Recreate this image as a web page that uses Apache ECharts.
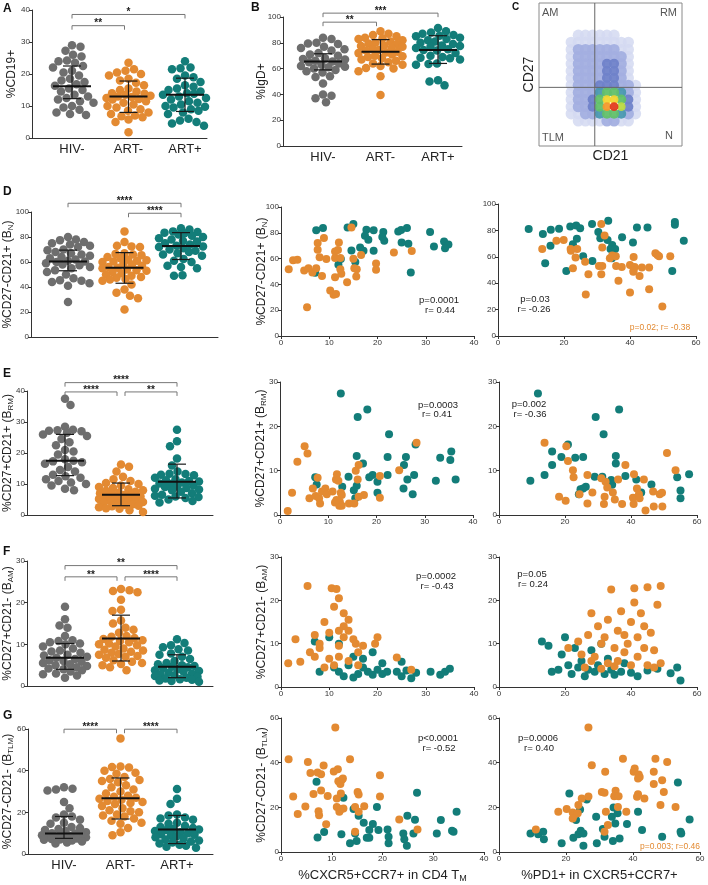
<!DOCTYPE html>
<html><head><meta charset="utf-8">
<script src="https://cdn.jsdelivr.net/npm/echarts@6/dist/echarts.min.js"></script>
<style>html,body{margin:0;padding:0;background:#fff}#c{width:708px;height:885px}</style>
</head><body><div id="c"></div>
<script>
// ---------------- DATA ----------------
const groups = ['HIV-', 'ART-', 'ART+'];

const A_hiv = [29,28.5,27.3,26,25.5,24.2,24,23.5,22.5,22,21,20.5,19.5,18.5,18,17.5,16.8,16.3,15.5,15,14.5,13.5,13,12.5,12,11.5,11,10,9.5,8.8,8,7.5,7.2];
const A_artn = [23.5,21.5,21,20.5,20,19.5,18.5,18,17.3,16.5,15.5,15,14.5,14,13.8,13.5,13.2,13,12.8,12.5,12.2,12,11.5,11,10.5,10,9.5,9,8.5,8,7.5,7,6.8,6.5,5.8,5,1.8];
const A_artp = [24,22,21.8,21.5,19.5,19,18.5,17.5,16.5,16,15.5,15,14.5,14,13.8,13.5,13,12.5,12,11.5,11,10.5,10,9.8,9.5,9,8.5,8,7.5,6,5.5,5,4.5,3.8];
const A_stats = [[16.2,12.3,22.5],[13,8,17.8],[13.5,8.3,18.7]];
const A_brk = [[0,1,35.1],[0,2,38.6]];
const A_stars = ['**','*'];

const B_hiv = [84,83,80,79.5,79,77,76,75,74,72,71,70,68,67.5,67,66,65.5,65,64,63,62,61.5,61,60,59,58,57,54,53.5,48.5,40,39,37,34];
const B_artn = [89,87,86,85,84,83.5,83,82,81,80,79.5,79,78,77.5,77,76,75,74.5,74,73,72.5,72,71,70,69.5,69,68,67,66,65,64,63,62,60.5,60,58,54,39.5];
const B_artp = [91.5,89,88,87,86,85.5,85,84,83,82,81,80,79,78,77.5,77,76,75,74.5,74,72,70,69,68.5,68,67,64,63.5,63,51,50,47];
const B_stats = [[65.5,59,71.5],[73,63.5,82.5],[74.5,64,85.5]];
const B_brk = [[0,1,96],[0,2,103]];
const B_stars = ['**','***'];

const D_hiv = [80,78,77.5,76,75,74,73,72,70,69.5,68,67,66,65,64,63,62,61,60.5,60,59,58,57.5,56,55,53.5,52,50,47,45.5,45,44,43,41,28];
const D_artn = [84.5,76,73,72.5,72,67,66.5,66,65.5,64,63,62,61.5,61,60.5,60,59,58,57,56,55.5,55,54,53.5,53,52,51,50,49,48,47.5,46.5,46,45,42,38,35.5,33,31,22];
const D_artp = [87,86,84.5,84,83.5,83,82,81,80,79,78,77,76.5,75,74,73,72.5,72,71,70,69,68,67,66,65,62.5,61,60,57,56,55,49.5,49];
const D_stats = [[60.5,53,69.5],[55.5,43,67.5],[72.8,62,83.5]];
const D_brk = [[0,2,107],[1,2,99]];
const D_stars = ['****','****'];

const E_hiv = [37.5,35.5,28.5,27.5,27.3,27.2,27,26.5,26,25.5,24.5,23.5,22.5,21,20.5,19.5,18,17.5,17.3,17,16.5,15.5,14.5,14,13,12.5,12,11.5,11,10.5,10,9.5,8.5,8];
const E_artn = [16.3,15.6,14,12.3,11.5,11,10.3,10,9.5,9,8.7,8.3,8,7.8,7.5,7.2,7,6.8,6.5,6.3,6,5.8,5.5,5.2,5,4.8,4.6,4.4,4.2,4,3.8,3.5,3.2,3,2.8,2.5,2.2,2,1.5,1];
const E_artp = [27.5,23.8,22.2,18.2,16,14,13.3,13.2,13,12.8,12,11.5,11.2,11,10.8,10.5,10.2,10,9.5,9.2,9,8.7,8.5,8.2,8,7.5,7,6.5,6.2,6,5.8,5.5,5,4.5,4];
const E_stats = [[17.5,12.7,26],[6.5,3,10.3],[10.7,5.5,16.4]];
const E_brk = [[0,2,42.7],[0,1,39.7],[1,2,39.7]];
const E_stars = ['****','****','**'];

const F_hiv = [19,16,14.5,14,12,11,10.8,10.5,10.2,10,9.5,9,8.5,8.3,8,7.5,7.3,7,6.8,6.5,6.2,6,5.8,5.5,5.2,5,4.8,4.5,4.2,4,3.8,3.5,3,2.8,2.5,2];
const F_artn = [23.3,23,22.8,22.5,20.7,18.3,18,15.7,15,14,13.5,12.8,12,11.8,11.5,11.3,11,10.8,10.5,10.2,10,9.8,9.5,9,8.7,8.5,8.2,8,7.7,7.5,7.2,7,6.8,6.2,5.8,5.5,5.3,5,4.5,3.8];
const F_artp = [11.2,10.3,9.8,9.3,8.8,8.5,7.8,7.5,7,6.5,6,5.5,5.2,5,4.8,4.6,4.5,4.3,4,3.8,3.6,3.4,3.2,3,2.8,2.6,2.4,2.2,2,1.8,1.6,1.5,1.3,1.2,1];
const F_stats = [[6.8,4,10.2],[11.4,6,17],[4.6,2,7.5]];
const F_brk = [[0,2,28.9],[0,1,26.2],[1,2,26.2]];
const F_stars = ['**','**','****'];

const G_hiv = [32,31,30.5,31.3,25,22,19,18,17.5,16.5,15,14.5,13,12.5,12,11.5,11,10.5,10,9.8,9.5,9.2,9,8.8,8.5,8.2,8,7.8,7.5,7.2,7,6.8,6.5,6,5.5,5];
const G_artn = [55.5,42,41.5,41.8,40,39,38.5,37,36,35.5,35,34.5,33,32,31,30,29,28,27.5,27,26.5,26,25.5,25,24.5,24,23,22,21,20.5,20,19,18.5,18,17,16,15,14.5,12.5,10.5,9];
const G_artp = [31.2,26.5,24,19,18.5,17.5,17,16.5,15,14.5,13.5,13,12.5,12,11.8,11.5,11,10.5,10,9.5,9.3,9,8.5,8,7.5,7,6.5,6,5.5,5,4.5,4,3.5,3];
const G_stats = [[9.8,7.5,18],[26.8,16.8,36.5],[11.8,5,18.5]];
const G_brk = [[0,1,59.9],[1,2,59.9]];
const G_stars = ['****','****'];

// scatter: x = %CXCR5+CCR7+ in CD4 TM (mid) or %PD1+ (right); [x, y]
const Dm_teal = [[7.3,81.9],[8.7,83.7],[13.8,84.2],[15,86.8],[17.7,82.4],[19.2,81.9],[21.2,80.6],[24.3,81.1],[24.9,82.1],[26.1,83.7],[30.9,80.6],[33.8,73.3],[34.7,71],[34,68.1],[31.7,69.4],[26.4,71.5],[25,72.5],[21.4,73.8],[21,76.7],[17.4,77.7],[18.1,74.6],[16.4,68.7],[17.1,66.1],[14.6,66.3],[19.2,66.1],[12.4,59.6],[11.9,55.2],[15.4,57.3],[7.1,49],[26.9,49.2]];
const Dm_orange = [[1.6,51.8],[2.5,58.8],[3.4,59.1],[4.8,50.8],[5.7,52.6],[6.5,49.2],[7.3,52.6],[7.6,72],[7.6,66.8],[8,61.1],[8.5,46.6],[8.9,75.9],[9.4,59.6],[10.2,35.2],[10.9,31.9],[11.4,32.6],[11.2,45.6],[11.2,65.5],[11.8,66.6],[12,72.5],[11.2,60.4],[12.3,60.4],[12.3,51.8],[12.5,48.2],[13.7,41.7],[14.6,84.2],[15,59.8],[15.2,52.6],[15.7,51.8],[15.6,46.1],[16.6,62.7],[19.7,56.2],[19.7,51.3],[23.4,64.8],[27.1,65.8],[5.4,22.3]];
const Dr_teal = [[9.3,81],[13.6,77.2],[16,80.5],[18.5,81.2],[21.9,83],[23.7,83.8],[24.9,81.7],[28.5,84.8],[30.4,78.7],[33.4,87.3],[31,74.1],[33.2,72.8],[37.6,74.9],[42.1,82.2],[45.3,82.2],[40.9,70.8],[53.6,86.3],[53.6,84.3],[56.3,72.1],[15.9,68.3],[22.7,69.5],[23.9,73.6],[34.6,69],[34.1,66],[35.5,66],[25.8,60.4],[28.6,56.9],[34.5,58.9],[14.3,55.1],[20.7,49.2],[52.8,49.2]];
const Dr_orange = [[13.4,66],[17.7,72.1],[19.9,72.8],[22,66],[24,66],[22.1,64.5],[23.5,59.4],[26.4,56.3],[22.7,51.3],[27.4,46.7],[26.6,31.5],[31.3,84.8],[32.3,76.1],[31.6,67],[33.9,58.9],[34.6,60.9],[35.7,60.4],[30.6,53],[31.6,53],[31.3,46.7],[35.8,53],[37.5,52.3],[36.5,41.9],[40,53.8],[40,33],[41.1,59.9],[41.4,52.3],[41,48.7],[41.1,49.7],[42.9,45.4],[43.6,51.8],[45.8,51.8],[45.8,35.5],[47.7,62.7],[48.3,61.4],[48.8,60.4],[52.2,60.4],[49.8,22.3]];

const Em_teal = [[12.6,27.4],[18.1,23.8],[16.1,22.1],[22.6,18.2],[28.1,15.9],[15.9,13.3],[22.3,13.1],[26.1,13.1],[33.2,12.9],[35.5,14.3],[35.3,12.4],[17.2,11.6],[25.7,11.3],[27.8,9],[22.3,9],[19.2,9],[18.5,8.5],[14.2,8.6],[7.3,8.5],[7.6,6.9],[12.9,6.4],[15.9,6.6],[15.3,5.6],[20.2,7.5],[26.4,8],[32.3,7.7],[36.4,8],[20.2,5],[25.6,6],[27.5,4.7],[15.6,3.8]];
const Em_orange = [[1.6,0.9],[2.5,5],[3.6,12],[5.1,15.5],[5.7,13.9],[6.1,3.8],[6.8,6],[7.8,8.4],[7.4,4.3],[8.1,3.8],[8.3,2.6],[8.7,5.3],[9.4,6],[9.7,4.7],[10.9,5.3],[11.6,8],[11.8,9.2],[12.1,7.7],[11.4,2.8],[12.3,2.1],[12.6,5],[12.8,4.5],[12.4,3],[12.8,2.1],[14.3,2.6],[15.4,2.6],[16.3,4.1],[16.1,8],[16.3,11.3],[17.4,4.5],[20.7,8.8],[20.7,3.9],[24.7,10.1],[28.3,16.3],[15.7,10],[11.7,3.4]];
const Er_teal = [[11.8,27.4],[36.4,23.8],[29.3,22.1],[31.7,18.2],[20.9,15.9],[16.1,14.3],[18.9,13.1],[16.1,11.3],[23.1,12.9],[25.5,13.1],[35.4,13.3],[35.4,11.6],[13.8,9],[9.5,7.7],[29,8.6],[31.3,8.6],[38.3,8.8],[41.6,8],[34,7.9],[34.3,6.8],[46.2,6.9],[54,8.5],[57.6,9.2],[55,5.5],[55,3.8],[43.1,5.1],[26.3,6.4],[24.7,5.8],[24.2,4.7],[25.5,6]];
const Er_orange = [[13.8,16.3],[20.4,15.5],[50.9,14],[20.9,12.2],[22.4,10.1],[22.6,8.5],[53.5,10.1],[38.3,11.3],[40.9,9.2],[43.9,8],[36.1,8],[26.8,9],[31,8.3],[32.3,7.5],[32.8,6.2],[28.3,5.1],[24.4,4.7],[18.2,4.1],[20.2,3.2],[26.8,2.6],[32,4.1],[31.8,2.5],[34.5,5.1],[35.1,3.5],[37.3,2.5],[40.6,3.9],[40.8,2.5],[41.8,6],[42.4,4.7],[42.6,3.8],[44.4,1],[46.7,5.3],[46.9,1.9],[48.7,4.7],[49.4,5],[49.5,1.9]];

const Fm_orange = [[5.5,23.3],[10.5,22.8],[11.5,22.6],[12,20.5],[11,18.5],[13,17],[14,15.5],[9,15],[10,12.5],[7,12],[3,11],[8,9],[13,11.5],[15,11],[15.5,10],[17,9.5],[19.5,10],[12,9.5],[6,8],[7,7],[10,6.5],[12,7],[14,6],[11,5],[16,8],[4,5.8],[1.5,5.5],[9,4.5],[20,11.5],[13,14],[14,13],[24,6.8],[27,4],[16,5],[8,10],[12,13]];
const Fm_teal = [[7,10.5],[12,10],[10,11.5],[15,7],[17,6.5],[14,5],[12,3.5],[13,2.5],[16,3],[18,3.5],[19,2.8],[20,4],[21,3],[22,3.5],[24,3.5],[25,2.5],[26,3.8],[28,3.3],[31,3.5],[34,3.5],[35,4.2],[33,2.8],[8,3.5],[11,4.5],[15,2.2],[17,4.5],[21,5.5],[25,5.8],[19,8],[27,2]];
const Fr_orange = [[21,9],[24,10.5],[25,7.5],[27,12],[28,6],[29,7],[30,14],[31,10],[32,11.5],[33,5.5],[33,15.5],[34,22.5],[35,9],[36,13],[36,6],[37,17.5],[38,8],[38,12],[39,10],[40,5],[40,15],[41,19.5],[41,22.8],[42,7],[42,11.5],[43,17],[44,9],[44,14],[45,5],[45,23],[46,12.5],[47,8.5],[48,19],[49,23.3],[49,5.5],[28,17],[26,4.5],[31,4.2],[35,4.8],[47,4.5]];
const Fr_teal = [[13,10.5],[15,9.5],[16,3.5],[18,4],[19,7.5],[20,11.5],[21,5],[22,3],[23,9],[24,4.5],[25,6],[26,2.5],[27,4],[28,8.5],[29,3.5],[30,5],[31,10],[32,3],[33,6.5],[34,4],[35,2.8],[37,3.5],[38,5.5],[40,3.3],[42,2.5],[45,3.8],[48,4.2],[52,3.2],[54,4.5],[55,1.5]];

const Gm_orange = [[1.5,41.5],[2.4,24.9],[3.3,17],[4.8,20.4],[5.3,40.3],[5.8,35.4],[6.4,26],[7.2,35.6],[7.4,18.3],[7.5,16.5],[7.9,34.8],[7.9,27.5],[8.4,38.7],[8.9,12.4],[9.2,25.1],[10.4,36],[10.7,55.7],[11,24],[11.2,37.1],[11,20.2],[11.3,31.7],[11.5,18],[11.7,30.4],[11.8,26.2],[12,32.4],[11.9,19.2],[12.2,32.9],[13.6,41.5],[14.6,20.2],[14.6,9.1],[15.1,26.9],[15.3,25.7],[15.3,18],[16.4,20.5],[19.5,34.4],[19.5,24.9],[23.3,14.6],[26.9,10.1],[12.3,19.5]];
const Gm_teal = [[7,31.4],[7.2,6.5],[8.5,8.9],[11.9,7.9],[12.3,24.3],[13.6,3.9],[14.3,19.2],[14.6,8.3],[14.9,4.9],[15.3,16.2],[16.3,13.1],[16.9,6.4],[17.4,6.4],[17.4,9.8],[18.1,12.5],[18.9,20.2],[19.2,9.8],[21,10.1],[21.2,6.8],[21.2,3.9],[24.1,8.3],[24.3,5.7],[24.9,16.2],[24.8,2.8],[26.1,8.3],[26.4,14.4],[26.8,26.5],[30.7,8.3],[31.5,14.3],[33.7,9.5],[34,9.1],[34.6,18]];
const Gr_orange = [[26.7,55.7],[27.7,38.8],[37,41.8],[46.7,41.8],[50.2,40.3],[40.2,35.9],[40.5,37.4],[42,33.6],[41.7,34.7],[41.5,32.9],[46.2,35.9],[48.7,32.1],[46.2,30.4],[31.7,35.9],[30.7,26.9],[31.5,26.5],[34.8,27.4],[34.4,25],[35.7,25],[41.5,25.9],[41.2,24.7],[43.4,24],[49.2,26.9],[26.7,24.9],[24.7,24],[23.7,21],[20.2,19.2],[17.7,18],[22,17.7],[22.4,16.5],[23.5,17.3],[22,15],[31.9,18],[35.5,20.2],[38,18],[48.2,21],[52.7,20.2],[32.5,12.1],[31.5,9.1],[11,10.1]];
const Gr_teal = [[9.4,8.3],[11.7,7.9],[13.2,9.1],[13.4,5.7],[18.7,3.9],[21,26.2],[22.2,6.4],[23,14.3],[23.7,7.9],[24.2,19],[24.4,9.5],[25.2,8.3],[25.2,2.8],[26.2,23.5],[29,15.8],[29.2,3.9],[31,10.3],[31.5,6.8],[33.7,15.8],[34.2,19.9],[34,4.9],[34.7,12.8],[35.4,17.3],[36,6.1],[38.2,12.5],[41.5,18],[42.7,9.8],[48.7,6.8],[53.4,31.1],[54.2,9.1],[54.4,8.3],[56.9,14.6]];

// panel C: density levels (0-9) in 5-unit cells, rows from CD27=75..80 (top) down to 15..20, columns CD21=15..75
const C_rows = [
 '001111110000',
 '011111111100',
 '012222221100',
 '012222222100',
 '012222332100',
 '012222332100',
 '012222332100',
 '012223332210',
 '012224554210',
 '012235775310',
 '012235896310',
 '011224554210',
 '001111221100'
];
const C_gate = [[39, 41]];
const C_quadrants = ['AM', 'RM', 'TLM', 'N'];

const statTexts = {
  Dm: ['p=0.0001', 'r= 0.44'], Dr: ['p=0.03', 'r= -0.26', 'p=0.02; r= -0.38'],
  Em: ['p=0.0003', 'r= 0.41'], Er: ['p=0.002', 'r= -0.36'],
  Fm: ['p=0.0002', 'r= -0.43'], Fr: ['p=0.05', 'r= 0.24'],
  Gm: ['p<0.0001', 'r= -0.52'], Gr: ['p=0.0006', 'r= 0.40', 'p=0.003; r=0.46']
};

// ---------------- BUILD ----------------
const FONT = '"Liberation Sans", Arial, Helvetica, sans-serif';
const COL = ['#6e6e6e', '#e38a32', '#137d79'];
const AXC = '#333';
const RICH = { s: { fontSize: 8, fontFamily: FONT, color: '#222', verticalAlign: 'bottom', lineHeight: 8 } };
const grids = [], xAxes = [], yAxes = [], series = [], graphics = [];

function addGrid(l, t, w, h) { grids.push({ left: l, top: t, width: w, height: h }); return grids.length - 1; }
function txt(x, y, text, size, color, align, weight) {
  graphics.push({ type: 'text', x: x, y: y, silent: true,
    style: { text: text, fontSize: size, fontFamily: FONT, fill: color, align: align || 'center', verticalAlign: 'middle',
      textAlign: align || 'center', textVerticalAlign: 'middle', fontWeight: weight || 'normal' } });
}
function yAxisOpt(gi, max, interval, name, gap) {
  return { gridIndex: gi, type: 'value', min: 0, max: max, interval: interval,
    name: name || '', nameLocation: 'middle', nameGap: gap || 12, nameMoveOverlap: false,
    nameTextStyle: { fontFamily: FONT, fontSize: 12, color: '#222', lineHeight: 14, rich: RICH },
    axisLine: { show: true, onZero: false, lineStyle: { color: AXC, width: 1 } },
    axisTick: { show: true, length: 3, lineStyle: { color: AXC } },
    axisLabel: { fontSize: 8, color: '#333', margin: 2, fontFamily: FONT },
    splitLine: { show: false } };
}
// beeswarm layout in pixel space, width capped (overlap allowed when crowded)
function swarm(vals, pxY, pxG, d, maxHalf) {
  const sorted = vals.slice().sort((a, b) => b - a);
  const placed = [], out = [];
  sorted.forEach((v, i) => {
    const y = v * pxY; let best = null, bestScore = -1, bestX = 0;
    for (let k = 0; k <= maxHalf * 2 && best === null; k++) {
      const off = k * 0.5;
      const c = k === 0 ? [0] : (i % 2 ? [off, -off] : [-off, off]);
      for (const x of c) {
        let mind = Infinity;
        for (const p of placed) { const dd = Math.hypot(p[0] - x, p[1] - y); if (dd < mind) mind = dd; }
        if (mind >= d) { best = x; break; }
        if (mind > bestScore + 0.01) { bestScore = mind; bestX = x; }
      }
    }
    if (best === null) best = bestX;
    placed.push([best, y]); out.push([best / pxG, v]);
  });
  return out;
}

function dotPanel(cfg) {
  const gi = addGrid(cfg.l, cfg.t, cfg.w, cfg.h);
  const xmin = (cfg.l - cfg.c0) / cfg.sp, xmax = (cfg.l + cfg.w - cfg.c0) / cfg.sp;
  xAxes.push({ gridIndex: gi, type: 'value', min: xmin, max: xmax,
    axisLine: { show: true, onZero: false, lineStyle: { color: AXC, width: 1 } }, axisTick: { show: false }, splitLine: { show: false },
    axisLabel: cfg.labels ? { show: true, customValues: [0, 1, 2], formatter: v => groups[Math.round(v)], fontSize: 13, color: '#222', margin: 5, fontFamily: FONT } : { show: false } });
  yAxes.push(yAxisOpt(gi, cfg.ymax, cfg.yint, cfg.name, cfg.ng));
  const xi = xAxes.length - 1, yi = yAxes.length - 1;
  const pxY = cfg.h / cfg.ymax;
  cfg.data.forEach((vals, g) => {
    const pts = swarm(vals, pxY, cfg.sp, 8.2, 22).map(p => [g + p[0], p[1]]);
    series.push({ type: 'scatter', xAxisIndex: xi, yAxisIndex: yi, data: pts, symbolSize: 8.5, clip: false, silent: true,
      itemStyle: { color: COL[g], opacity: 1 } });
  });
  series.push({ type: 'custom', xAxisIndex: xi, yAxisIndex: yi, silent: true, clip: false, z: 5,
    data: cfg.stats.map((s, g) => [g, s[0], s[1], s[2]]),
    renderItem: (params, api) => {
      const g = api.value(0);
      const pm = api.coord([g, api.value(1)]), pl = api.coord([g, api.value(2)]), ph = api.coord([g, api.value(3)]);
      const st = { stroke: '#1a1a1a', lineWidth: 1.2 };
      return { type: 'group', children: [
        { type: 'line', shape: { x1: pl[0], y1: pl[1], x2: ph[0], y2: ph[1] }, style: st },
        { type: 'line', shape: { x1: pl[0] - 9, y1: pl[1], x2: pl[0] + 9, y2: pl[1] }, style: st },
        { type: 'line', shape: { x1: ph[0] - 9, y1: ph[1], x2: ph[0] + 9, y2: ph[1] }, style: st },
        { type: 'line', shape: { x1: pm[0] - 19, y1: pm[1], x2: pm[0] + 19, y2: pm[1] }, style: { stroke: '#111', lineWidth: 2 } }
      ] };
    } });
  const stars = cfg.stars;
  series.push({ type: 'custom', xAxisIndex: xi, yAxisIndex: yi, silent: true, clip: false, data: cfg.brk,
    renderItem: (params, api) => {
      const g1 = api.value(0), g2 = api.value(1), y = api.value(2);
      const p1 = api.coord([g1, y]), p2 = api.coord([g2, y]);
      const x1 = p1[0] + (g1 === 1 ? 4 : 0), x2 = p2[0] - (g2 === 1 ? 4 : 0), yy = p1[1];
      return { type: 'group', children: [
        { type: 'polyline', shape: { points: [[x1, yy + 4], [x1, yy], [x2, yy], [x2, yy + 4]] }, style: { stroke: '#777', lineWidth: 1, fill: null } },
        { type: 'text', style: { x: (x1 + x2) / 2, y: yy - 2, text: stars[params.dataIndex], align: 'center', verticalAlign: 'middle', fontSize: 10, fontWeight: 'bold', fontFamily: FONT, fill: '#222' } }
      ] };
    } });
}

function scatterPanel(cfg) {
  const gi = addGrid(cfg.l, cfg.t, cfg.w, cfg.h);
  xAxes.push({ gridIndex: gi, type: 'value', min: 0, max: cfg.xmax, interval: cfg.xint,
    name: cfg.xname || '', nameLocation: 'middle', nameGap: 16, nameMoveOverlap: false,
    nameTextStyle: { fontFamily: FONT, fontSize: 13, color: '#222', lineHeight: 15, rich: { s: { fontSize: 9, fontFamily: FONT, color: '#222', verticalAlign: 'bottom', lineHeight: 9 } } },
    axisLine: { show: true, onZero: false, lineStyle: { color: AXC, width: 1 } },
    axisTick: { show: true, length: 3, lineStyle: { color: AXC } },
    axisLabel: { fontSize: 8, color: '#333', margin: 3, fontFamily: FONT }, splitLine: { show: false } });
  yAxes.push(yAxisOpt(gi, cfg.ymax, cfg.yint, cfg.yname, 12));
  const xi = xAxes.length - 1, yi = yAxes.length - 1;
  series.push({ type: 'scatter', xAxisIndex: xi, yAxisIndex: yi, data: cfg.teal, symbolSize: 8, silent: true, clip: false, itemStyle: { color: COL[2], opacity: 1 } });
  series.push({ type: 'scatter', xAxisIndex: xi, yAxisIndex: yi, data: cfg.orange, symbolSize: 8, silent: true, clip: false, itemStyle: { color: COL[1], opacity: 1 } });
}

const N_BN = '%CD27-CD21+ (B{s|N})', N_BRM = '%CD27+CD21+ (B{s|RM})', N_BAM = '%CD27+CD21- (B{s|AM})', N_BTLM = '%CD27-CD21- (B{s|TLM})';

// Row A/B
dotPanel({ l: 32, t: 10, w: 175, h: 128, c0: 72, sp: 56.5, ymax: 40, yint: 10, name: '%CD19+', ng: 13, labels: true,
  data: [A_hiv, A_artn, A_artp], stats: A_stats, brk: A_brk, stars: A_stars });
dotPanel({ l: 283, t: 17, w: 179, h: 129, c0: 323, sp: 57.5, ymax: 100, yint: 20, name: '%IgD+', ng: 14, labels: true,
  data: [B_hiv, B_artn, B_artp], stats: B_stats, brk: B_brk, stars: B_stars });

// Panel C
{
  const gi = addGrid(539, 3, 143, 143);
  grids[gi].show = true; grids[gi].borderColor = '#8a8a8a'; grids[gi].borderWidth = 1;
  xAxes.push({ gridIndex: gi, type: 'value', min: 0, max: 100, axisLine: { show: false }, axisTick: { show: false }, axisLabel: { show: false }, splitLine: { show: false },
    name: 'CD21', nameLocation: 'middle', nameGap: 3, nameMoveOverlap: false, nameTextStyle: { fontFamily: FONT, fontSize: 14, color: '#222', verticalAlign: 'top' } });
  yAxes.push({ gridIndex: gi, type: 'value', min: 0, max: 100, axisLine: { show: false }, axisTick: { show: false }, axisLabel: { show: false }, splitLine: { show: false },
    name: 'CD27', nameLocation: 'middle', nameGap: 3, nameMoveOverlap: false, nameTextStyle: { fontFamily: FONT, fontSize: 14, color: '#222' } });
  const xi = xAxes.length - 1, yi = yAxes.length - 1;
  const cells = [];
  C_rows.forEach((row, r) => { row.split('').forEach((ch, c) => { const lv = +ch; if (lv > 0) cells.push([15 + c * 5, 75 - r * 5, lv]); }); });
  cells.sort((a, b) => a[2] - b[2]);   // draw denser levels on top
  const pal = ['#fff', '#d3d9f1', '#a3afe0', '#6f82c9', '#4a98b0', '#62c06a', '#bcd943', '#f2d530', '#f39a2d', '#e33a1f'];
  series.push({ type: 'custom', xAxisIndex: xi, yAxisIndex: yi, silent: true, data: cells,
    renderItem: (params, api) => {
      const lv = api.value(2);
      const c = api.coord([api.value(0) + 2.5, api.value(1) + 2.5]);
      const rad = lv <= 2 ? 5.6 : (lv <= 5 ? 5.0 : 4.4);
      return { type: 'circle', shape: { cx: c[0], cy: c[1], r: rad }, style: { fill: pal[lv], opacity: lv <= 1 ? 0.85 : 0.95 } };
    } });
  series.push({ type: 'custom', xAxisIndex: xi, yAxisIndex: yi, silent: true, data: C_gate, z: 3,
    renderItem: (params, api) => {
      const gx = api.value(0), gy = api.value(1);
      const v0 = api.coord([gx, 0]), v1 = api.coord([gx, 100]), h0 = api.coord([0, gy]), h1 = api.coord([100, gy]);
      return { type: 'group', children: [
        { type: 'line', shape: { x1: v0[0], y1: v0[1], x2: v1[0], y2: v1[1] }, style: { stroke: '#666', lineWidth: 1 } },
        { type: 'line', shape: { x1: h0[0], y1: h0[1], x2: h1[0], y2: h1[1] }, style: { stroke: '#666', lineWidth: 1 } }
      ] };
    } });
  txt(542, 12.5, C_quadrants[0], 11, '#555', 'left');
  txt(677, 12.5, C_quadrants[1], 11, '#555', 'right');
  txt(542, 138, C_quadrants[2], 11, '#555', 'left');
  txt(673, 136, C_quadrants[3], 11, '#555', 'right');
}

// Row D
dotPanel({ l: 31, t: 212, w: 187, h: 125, c0: 68, sp: 56.5, ymax: 100, yint: 20, name: N_BN, ng: 16, labels: false,
  data: [D_hiv, D_artn, D_artp], stats: D_stats, brk: D_brk, stars: D_stars });
scatterPanel({ l: 281, t: 207, w: 193, h: 129, xmax: 40, xint: 10, ymax: 100, yint: 20, yname: N_BN, orange: Dm_orange, teal: Dm_teal });
scatterPanel({ l: 498, t: 204, w: 198, h: 132, xmax: 60, xint: 20, ymax: 100, yint: 20, orange: Dr_orange, teal: Dr_teal });
// Row E
dotPanel({ l: 27, t: 391, w: 186, h: 124, c0: 65, sp: 56, ymax: 40, yint: 10, name: N_BRM, ng: 12, labels: false,
  data: [E_hiv, E_artn, E_artp], stats: E_stats, brk: E_brk, stars: E_stars });
scatterPanel({ l: 280, t: 382, w: 193, h: 133, xmax: 40, xint: 10, ymax: 30, yint: 10, yname: N_BRM, orange: Em_orange, teal: Em_teal });
scatterPanel({ l: 499, t: 382, w: 198, h: 133, xmax: 60, xint: 20, ymax: 30, yint: 10, orange: Er_orange, teal: Er_teal });
// Row F
dotPanel({ l: 27, t: 561, w: 186, h: 125, c0: 65, sp: 56, ymax: 30, yint: 10, name: N_BAM, ng: 12, labels: false,
  data: [F_hiv, F_artn, F_artp], stats: F_stats, brk: F_brk, stars: F_stars });
scatterPanel({ l: 281, t: 557, w: 193, h: 130, xmax: 40, xint: 10, ymax: 30, yint: 10, yname: N_BAM, orange: Fm_orange, teal: Fm_teal });
scatterPanel({ l: 499, t: 557, w: 198, h: 130, xmax: 60, xint: 20, ymax: 30, yint: 10, orange: Fr_orange, teal: Fr_teal });
// Row G
dotPanel({ l: 28, t: 729, w: 185, h: 125, c0: 64, sp: 56.5, ymax: 60, yint: 20, name: N_BTLM, ng: 13, labels: true,
  data: [G_hiv, G_artn, G_artp], stats: G_stats, brk: G_brk, stars: G_stars });
scatterPanel({ l: 281, t: 718, w: 203, h: 134, xmax: 40, xint: 10, ymax: 60, yint: 20, yname: N_BTLM, xname: '%CXCR5+CCR7+ in CD4 T{s|M}', orange: Gm_orange, teal: Gm_teal });
scatterPanel({ l: 499, t: 718, w: 201, h: 134, xmax: 60, xint: 20, ymax: 60, yint: 20, xname: '%PD1+ in CXCR5+CCR7+', orange: Gr_orange, teal: Gr_teal });

// panel letters
[['A', 3, 8.5], ['B', 251, 7.5], ['D', 3, 191.5], ['E', 3, 373.5], ['F', 3, 552], ['G', 3, 715.5]].forEach(p => txt(p[1], p[2], p[0], 12, '#111', 'left', 'bold'));
txt(512, 7.5, 'C', 10, '#111', 'left', 'bold');

// stats texts
const ST = 9.5;
txt(439, 300, statTexts.Dm[0], ST, '#222'); txt(440, 310, statTexts.Dm[1], ST, '#222');
txt(535, 299, statTexts.Dr[0], ST, '#222'); txt(534, 309, statTexts.Dr[1], ST, '#222'); txt(660, 328, statTexts.Dr[2], 8.5, COL[1]);
txt(438, 405, statTexts.Em[0], ST, '#222'); txt(437, 414, statTexts.Em[1], ST, '#222');
txt(529, 404, statTexts.Er[0], ST, '#222'); txt(530, 414, statTexts.Er[1], ST, '#222');
txt(436, 576, statTexts.Fm[0], ST, '#222'); txt(437, 586, statTexts.Fm[1], ST, '#222');
txt(532, 574, statTexts.Fr[0], ST, '#222'); txt(533, 584, statTexts.Fr[1], ST, '#222');
txt(438, 738, statTexts.Gm[0], ST, '#222'); txt(439, 748, statTexts.Gm[1], ST, '#222');
txt(538, 738, statTexts.Gr[0], ST, '#222'); txt(539, 748, statTexts.Gr[1], ST, '#222'); txt(670, 847, statTexts.Gr[2], 8.5, COL[1]);

const chart = echarts.init(document.getElementById('c'), null, { renderer: 'canvas' });
chart.setOption({ animation: false, backgroundColor: '#fff', textStyle: { fontFamily: FONT },
  grid: grids, xAxis: xAxes, yAxis: yAxes, series: series, graphic: { elements: graphics } });
</script></body></html>
